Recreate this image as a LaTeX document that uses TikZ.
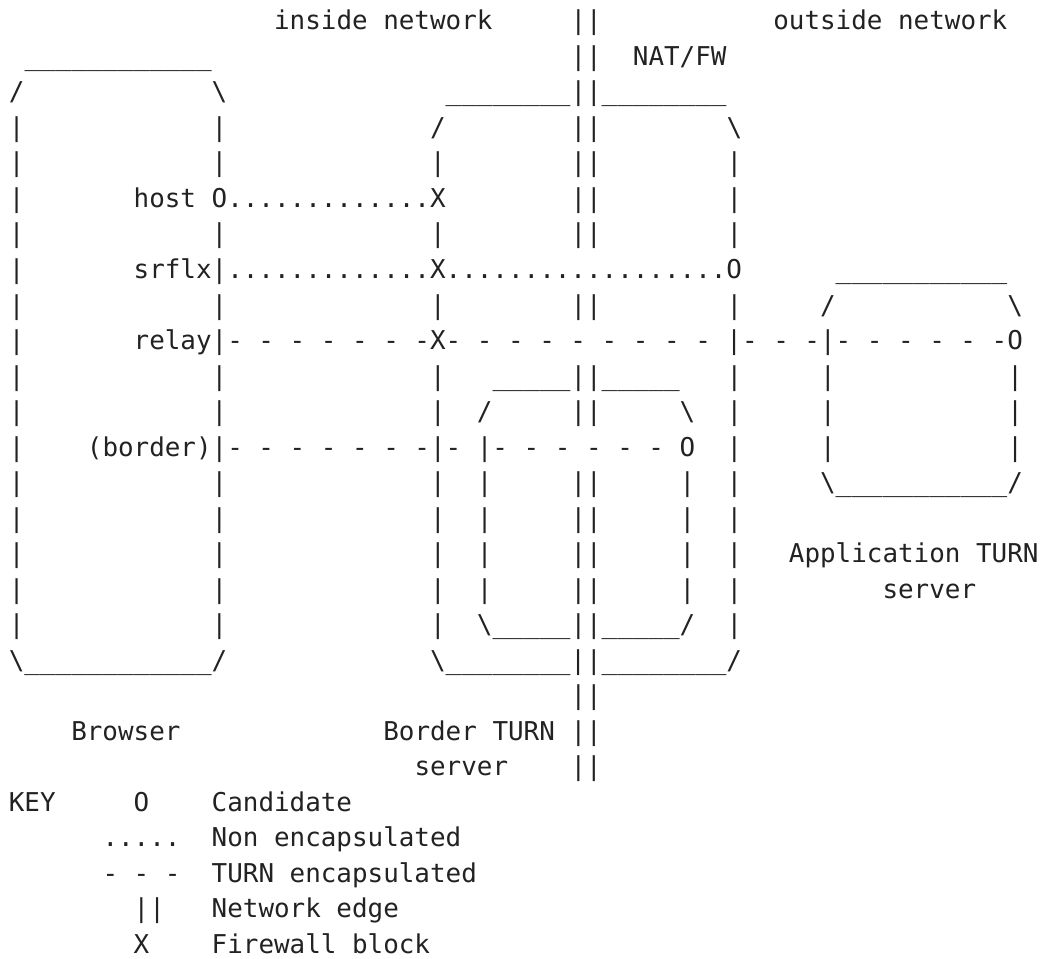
\documentclass[tikz,border=0pt]{standalone}
\usepackage{fontspec}
\newfontfamily\asciimono{DejaVu Sans Mono}
\definecolor{ink}{RGB}{34,34,34}
\frenchspacing
\begin{document}
\begin{tikzpicture}[x=0.75pt,y=-0.75pt,
  t/.style={anchor=base west,inner sep=0pt,outer sep=0pt,text=ink,
    font=\asciimono\fontsize{19.434pt}{24pt}\selectfont\frenchspacing},
  gp/.style 2 args={at={({8.9+15.6*(#2)},{30+35.5*(#1)})}}]
\useasboundingbox (0,0) rectangle (1059,959);
% row 0
\node[t,gp={0}{17}] (r0a) {inside network};
\node[t,gp={0}{36}] (r0b) {||};
\node[t,gp={0}{49}] (r0c) {outside network};
% row 1
\node[t,gp={1}{1}] (r1a) {\_\_\_\_\_\_\_\_\_\_\_\_};
\node[t,gp={1}{36}] (r1b) {||};
\node[t,gp={1}{40}] (r1c) {NAT/FW};
% row 2
\node[t,gp={2}{0}] (r2a) {/};
\node[t,gp={2}{13}] (r2b) {\textbackslash};
\node[t,gp={2}{28}] (r2c) {\_\_\_\_\_\_\_\_||\_\_\_\_\_\_\_\_};
% row 3
\node[t,gp={3}{0}] (r3a) {|};
\node[t,gp={3}{13}] (r3b) {|};
\node[t,gp={3}{27}] (r3c) {/};
\node[t,gp={3}{36}] (r3d) {||};
\node[t,gp={3}{46}] (r3e) {\textbackslash};
% row 4
\node[t,gp={4}{0}] (r4a) {|};
\node[t,gp={4}{13}] (r4b) {|};
\node[t,gp={4}{27}] (r4c) {|};
\node[t,gp={4}{36}] (r4d) {||};
\node[t,gp={4}{46}] (r4e) {|};
% row 5
\node[t,gp={5}{0}] (r5a) {|};
\node[t,gp={5}{8}] (r5b) {host O.............X};
\node[t,gp={5}{36}] (r5c) {||};
\node[t,gp={5}{46}] (r5d) {|};
% row 6
\node[t,gp={6}{0}] (r6a) {|};
\node[t,gp={6}{13}] (r6b) {|};
\node[t,gp={6}{27}] (r6c) {|};
\node[t,gp={6}{36}] (r6d) {||};
\node[t,gp={6}{46}] (r6e) {|};
% row 7
\node[t,gp={7}{0}] (r7a) {|};
\node[t,gp={7}{8}] (r7b) {srflx|.............X..................O};
\node[t,gp={7}{53}] (r7c) {\_\_\_\_\_\_\_\_\_\_\_};
% row 8
\node[t,gp={8}{0}] (r8a) {|};
\node[t,gp={8}{13}] (r8b) {|};
\node[t,gp={8}{27}] (r8c) {|};
\node[t,gp={8}{36}] (r8d) {||};
\node[t,gp={8}{46}] (r8e) {|};
\node[t,gp={8}{52}] (r8f) {/};
\node[t,gp={8}{64}] (r8g) {\textbackslash};
% row 9
\node[t,gp={9}{0}] (r9a) {|};
\node[t,gp={9}{8}] (r9b) {relay|- - - - - - -X- - - - - - - - - |- - -|- - - - - -O};
% row 10
\node[t,gp={10}{0}] (r10a) {|};
\node[t,gp={10}{13}] (r10b) {|};
\node[t,gp={10}{27}] (r10c) {|};
\node[t,gp={10}{31}] (r10d) {\_\_\_\_\_||\_\_\_\_\_};
\node[t,gp={10}{46}] (r10e) {|};
\node[t,gp={10}{52}] (r10f) {|};
\node[t,gp={10}{64}] (r10g) {|};
% row 11
\node[t,gp={11}{0}] (r11a) {|};
\node[t,gp={11}{13}] (r11b) {|};
\node[t,gp={11}{27}] (r11c) {|};
\node[t,gp={11}{30}] (r11d) {/};
\node[t,gp={11}{36}] (r11e) {||};
\node[t,gp={11}{43}] (r11f) {\textbackslash};
\node[t,gp={11}{46}] (r11g) {|};
\node[t,gp={11}{52}] (r11h) {|};
\node[t,gp={11}{64}] (r11i) {|};
% row 12
\node[t,gp={12}{0}] (r12a) {|};
\node[t,gp={12}{5}] (r12b) {(border)|- - - - - - -|- |- - - - - - O};
\node[t,gp={12}{46}] (r12c) {|};
\node[t,gp={12}{52}] (r12d) {|};
\node[t,gp={12}{64}] (r12e) {|};
% row 13
\node[t,gp={13}{0}] (r13a) {|};
\node[t,gp={13}{13}] (r13b) {|};
\node[t,gp={13}{27}] (r13c) {|};
\node[t,gp={13}{30}] (r13d) {|};
\node[t,gp={13}{36}] (r13e) {||};
\node[t,gp={13}{43}] (r13f) {|};
\node[t,gp={13}{46}] (r13g) {|};
\node[t,gp={13}{52}] (r13h) {\textbackslash\_\_\_\_\_\_\_\_\_\_\_/};
% row 14
\node[t,gp={14}{0}] (r14a) {|};
\node[t,gp={14}{13}] (r14b) {|};
\node[t,gp={14}{27}] (r14c) {|};
\node[t,gp={14}{30}] (r14d) {|};
\node[t,gp={14}{36}] (r14e) {||};
\node[t,gp={14}{43}] (r14f) {|};
\node[t,gp={14}{46}] (r14g) {|};
% row 15
\node[t,gp={15}{0}] (r15a) {|};
\node[t,gp={15}{13}] (r15b) {|};
\node[t,gp={15}{27}] (r15c) {|};
\node[t,gp={15}{30}] (r15d) {|};
\node[t,gp={15}{36}] (r15e) {||};
\node[t,gp={15}{43}] (r15f) {|};
\node[t,gp={15}{46}] (r15g) {|};
\node[t,gp={15}{50}] (r15h) {Application TURN};
% row 16
\node[t,gp={16}{0}] (r16a) {|};
\node[t,gp={16}{13}] (r16b) {|};
\node[t,gp={16}{27}] (r16c) {|};
\node[t,gp={16}{30}] (r16d) {|};
\node[t,gp={16}{36}] (r16e) {||};
\node[t,gp={16}{43}] (r16f) {|};
\node[t,gp={16}{46}] (r16g) {|};
\node[t,gp={16}{56}] (r16h) {server};
% row 17
\node[t,gp={17}{0}] (r17a) {|};
\node[t,gp={17}{13}] (r17b) {|};
\node[t,gp={17}{27}] (r17c) {|};
\node[t,gp={17}{30}] (r17d) {\textbackslash\_\_\_\_\_||\_\_\_\_\_/};
\node[t,gp={17}{46}] (r17e) {|};
% row 18
\node[t,gp={18}{0}] (r18a) {\textbackslash\_\_\_\_\_\_\_\_\_\_\_\_/};
\node[t,gp={18}{27}] (r18b) {\textbackslash\_\_\_\_\_\_\_\_||\_\_\_\_\_\_\_\_/};
% row 19
\node[t,gp={19}{36}] (r19a) {||};
% row 20
\node[t,gp={20}{4}] (r20a) {Browser};
\node[t,gp={20}{24}] (r20b) {Border TURN};
\node[t,gp={20}{36}] (r20c) {||};
% row 21
\node[t,gp={21}{26}] (r21a) {server};
\node[t,gp={21}{36}] (r21b) {||};
% legend
\node[t,gp={22}{0}] (k0) {KEY};
\node[t,gp={22}{8}] (k1) {O};
\node[t,gp={22}{13}] (k2) {Candidate};
\node[t,gp={23}{6}] (k3) {.....};
\node[t,gp={23}{13}] (k4) {Non encapsulated};
\node[t,gp={24}{6}] (k5) {- - -};
\node[t,gp={24}{13}] (k6) {TURN encapsulated};
\node[t,gp={25}{8}] (k7) {||};
\node[t,gp={25}{13}] (k8) {Network edge};
\node[t,gp={26}{8}] (k9) {X};
\node[t,gp={26}{13}] (k10) {Firewall block};
\end{tikzpicture}
\end{document}
